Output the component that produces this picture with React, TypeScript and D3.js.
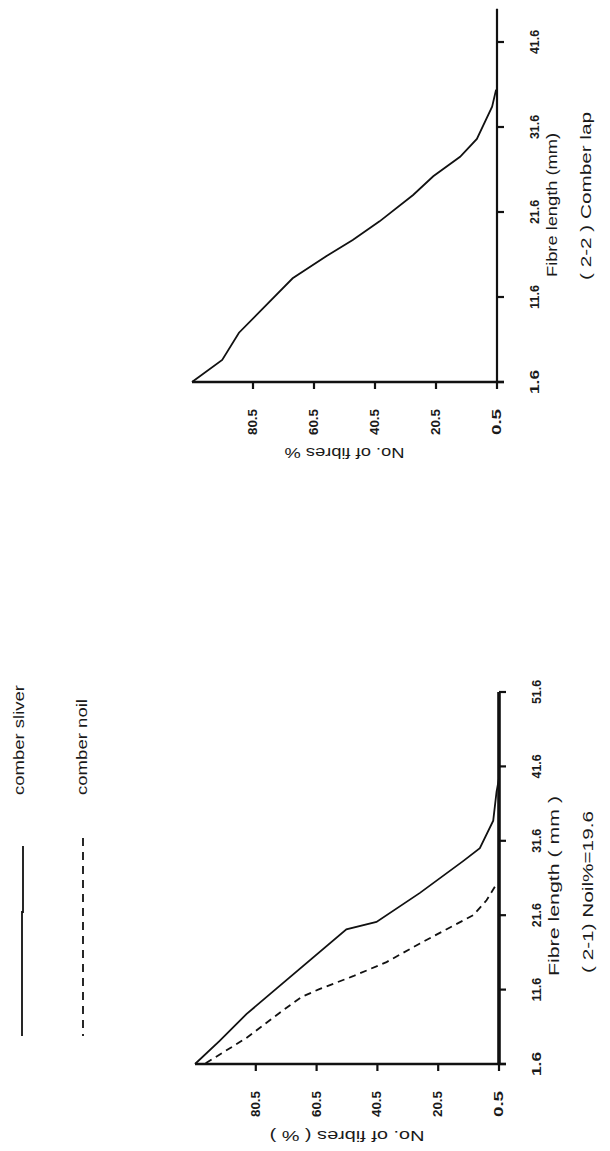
import React from "react";
import * as d3 from "d3";

// ---------- data ----------
const pctTicks = [80.5, 60.5, 40.5, 20.5, 0.5];
const lapTicks = [1.6, 11.6, 21.6, 31.6, 41.6];
const noilTicks = [1.6, 11.6, 21.6, 31.6, 41.6, 51.6];

// (2-2) comber lap
const lapLen = [1.6, 4.2, 7.4, 13.8, 16.4, 18.3, 20.5, 23.6, 25.8, 28.1, 30.2, 34.0, 36.0];
const lapPct = [100.5, 90.6, 85.1, 67.5, 56.5, 47.8, 39.0, 28.0, 21.4, 12.6, 7.1, 2.1, 0.8];

// (2-1) comber sliver
const sliverLen = [1.6, 4.7, 8.3, 19.7, 20.7, 24.6, 28.9, 30.6, 34.3, 38.2, 40.0];
const sliverPct = [100.5, 92.4, 83.6, 50.7, 40.8, 26.5, 12.2, 6.8, 2.4, 1.3, 0.5];

// (2-1) comber noil
const noilLen = [1.7, 5.1, 8.5, 10.6, 11.7, 13.4, 15.3, 17.8, 20.2, 21.6, 23.6, 26.0];
const noilPct = [97.0, 83.6, 72.6, 65.5, 59.4, 48.5, 37.5, 26.5, 15.5, 9.0, 4.6, 1.0];

const FONT = "Liberation Sans, Arial, sans-serif";

type Series = { len: number[]; pct: number[]; dash?: string };

function RText(props: {
  x: number;
  y: number;
  rot: number;
  size: number;
  len: number;
  anchor?: string;
  bold?: boolean;
  children: string;
}) {
  const p = props;
  return (
    <text
      transform={`translate(${p.x},${p.y}) rotate(${p.rot})`}
      textAnchor={p.anchor || "middle"}
      dominantBaseline="central"
      fontFamily={FONT}
      fontSize={p.size}
      fontWeight={p.bold ? "bold" : "normal"}
      fill="#1a1a1a"
      textLength={p.len}
      lengthAdjust="spacingAndGlyphs"
    >
      {p.children}
    </text>
  );
}

function Panel(props: {
  yCorner: number;
  axisTopLen: number;
  xAxis: number;
  xLeft: number;
  fibDomain: [number, number];
  fibRange: [number, number];
  fibTicks: number[];
  series: Series[];
  fibTitle: string;
  fibTitleLen: number;
  caption: string;
  captionLen: number;
  pctTitle: string;
  pctTitleLen: number;
  titleY: number;
  fibTitleCenter: number;
  captionCenter: number;
  vAxisWidth: number;
}) {
  const p = props;
  const x = d3.scaleLinear().domain([0.5, 80.5]).range([p.xAxis, p.xAxis - (p.xAxis - p.xLeft) * 0.8]);
  const y = d3.scaleLinear().domain(p.fibDomain).range(p.fibRange);
  const line = d3
    .line<[number, number]>()
    .x((d) => x(d[1]))
    .y((d) => y(d[0]));
  const yAxisTop = y(p.axisTopLen);
  return (
    <g>
      <line x1={p.xAxis} x2={p.xAxis} y1={p.yCorner + 1} y2={yAxisTop} stroke="#111" strokeWidth={p.vAxisWidth} />
      {p.fibTicks.map((t) => (
        <g key={"ft" + t}>
          <line x1={p.xAxis} x2={p.xAxis + 7} y1={y(t)} y2={y(t)} stroke="#111" strokeWidth={2.2} />
          <RText x={p.xAxis + 38} y={y(t)} rot={-90} size={12} len={24} bold>
            {t.toFixed(1)}
          </RText>
        </g>
      ))}
      <line x1={x(100.5)} x2={p.xAxis + 7} y1={p.yCorner} y2={p.yCorner} stroke="#111" strokeWidth={2.4} />
      {pctTicks.map((t) => (
        <g key={"pt" + t}>
          <line x1={x(t)} x2={x(t)} y1={p.yCorner} y2={p.yCorner + 7} stroke="#111" strokeWidth={2.2} />
          <RText x={x(t)} y={p.yCorner + 40} rot={-90} size={12} len={26} bold>
            {t.toFixed(1)}
          </RText>
        </g>
      ))}
      {p.series.map((s, i) => (
        <path
          key={"s" + i}
          d={line(s.len.map((l, j) => [l, s.pct[j]] as [number, number])) || ""}
          fill="none"
          stroke="#111"
          strokeWidth={1.8}
          strokeDasharray={s.dash}
        />
      ))}
      <RText x={p.xAxis + 55} y={p.fibTitleCenter} rot={-90} size={14} len={p.fibTitleLen}>
        {p.fibTitle}
      </RText>
      <RText x={p.xAxis + 89} y={p.captionCenter} rot={-90} size={14} len={p.captionLen}>
        {p.caption}
      </RText>
      <RText x={(x(100.5) + p.xAxis) / 2} y={p.titleY} rot={180} size={14} len={p.pctTitleLen}>
        {p.pctTitle}
      </RText>
    </g>
  );
}

export default function App() {
  return (
    <svg width={610} height={1151} style={{ position: "absolute", left: 0, top: 0, background: "#fff" }}>
      <rect x={0} y={0} width={610} height={1151} fill="#fff" />
      {/* upper panel: (2-2) comber lap */}
      <Panel
        yCorner={382}
        axisTopLen={45.5}
        xAxis={497}
        xLeft={192}
        fibDomain={[1.6, 41.6]}
        fibRange={[382, 42]}
        fibTicks={lapTicks}
        series={[{ len: lapLen, pct: lapPct }]}
        fibTitle="Fibre length (mm)"
        fibTitleLen={144}
        caption="( 2-2 ) Comber lap"
        captionLen={168}
        pctTitle="No. of fibres %"
        pctTitleLen={120}
        titleY={453}
        fibTitleCenter={205}
        captionCenter={196}
        vAxisWidth={2.2}
      />
      {/* lower panel: (2-1) Noil%=19.6 */}
      <Panel
        yCorner={1064}
        axisTopLen={51.6}
        xAxis={499}
        xLeft={195}
        fibDomain={[1.6, 51.6]}
        fibRange={[1064, 692]}
        fibTicks={noilTicks}
        series={[
          { len: sliverLen, pct: sliverPct },
          { len: noilLen, pct: noilPct, dash: "7 5" },
        ]}
        fibTitle="Fibre length ( mm )"
        fibTitleLen={180}
        caption="( 2-1) Noil%=19.6"
        captionLen={162}
        pctTitle="No. of fibres ( % )"
        pctTitleLen={155}
        titleY={1136}
        fibTitleCenter={886}
        captionCenter={892}
        vAxisWidth={3.6}
      />
      {/* legend */}
      <RText x={19} y={795} rot={-90} size={14} len={110} anchor="start">
        comber sliver
      </RText>
      <RText x={82} y={795} rot={-90} size={14} len={96} anchor="start">
        comber noil
      </RText>
      <path d="M23,846 L23,912 L22,912 L22,1036" fill="none" stroke="#111" strokeWidth={1.8} />
      <line x1={83} x2={83} y1={838} y2={1036} stroke="#111" strokeWidth={1.8} strokeDasharray="8 6" />
    </svg>
  );
}
